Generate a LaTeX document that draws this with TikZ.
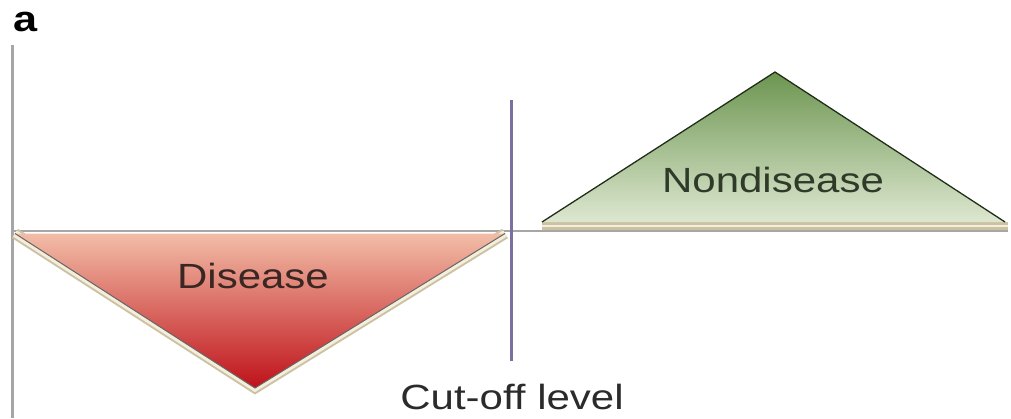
\documentclass[tikz,border=0pt]{standalone}
\usepackage{fontspec}
\setmainfont{Liberation Sans}
\newfontfamily\widesans[FakeStretch=1.2]{Liberation Sans}
\definecolor{axisgray}{HTML}{A6A6A6}
\definecolor{cutviolet}{HTML}{7A6FA0}
\definecolor{frametan}{HTML}{CDC1A3}
\definecolor{framecream}{HTML}{F4EFDD}
\definecolor{dzlight}{HTML}{F2BDA7}
\definecolor{dzmid}{HTML}{E8755A}
\definecolor{dzdark}{HTML}{BF121A}
\definecolor{ndtop}{HTML}{6C9550}
\definecolor{ndbottom}{HTML}{DDE7D0}
\definecolor{dztext}{HTML}{3A2622}
\definecolor{ndtext}{HTML}{2F3A29}
\definecolor{cuttext}{HTML}{2B2B2B}
\tikzset{label/.style={anchor=center,inner sep=0pt,font=\widesans\fontsize{35}{40}\selectfont},axis/.style={axisgray,line width=2.6pt}}

\begin{document}
\begin{tikzpicture}[x=1pt,y=-1pt]
\path[use as bounding box] (0,0) rectangle (1011,418);
\node[anchor=center,inner sep=0pt,font=\widesans\bfseries\fontsize{36}{40}\selectfont] (panel) at (26.00000,21.50000) {a};
% axes
\draw[axis] (12.50000,45.00000) -- (12.50000,418.00000);
\draw[axisgray,line width=2pt] (12.00000,230.50000) -- (1008.00000,230.50000);
% disease triangle with its frame
\coordinate (dl) at (15.00000,233.50000);
\coordinate (dr) at (505.00000,233.50000);
\coordinate (dapex) at (255.00000,388.00000);
\draw[frametan,line width=11pt,line join=miter] (dl) -- (dapex) -- (dr);
\draw[framecream,line width=7pt,line join=miter] (dl) -- (dapex) -- (dr);
\shade[top color=dzlight,middle color=dzmid,bottom color=dzdark] (dl) -- (dr) -- (dapex) -- cycle;
\draw[black!60,line width=1pt] (dl) -- (dapex) -- (dr);
% nondisease triangle
\coordinate (nl) at (542.00000,222.00000);
\coordinate (nr) at (1005.00000,222.00000);
\coordinate (napex) at (775.00000,72.00000);
\fill[frametan] (542.00000,222.00000) rectangle (1008.00000,229.50000);
\fill[framecream] (542.00000,224.50000) rectangle (1008.00000,227.00000);
\shade[top color=ndtop,bottom color=ndbottom] (nl) -- (nr) -- (napex) -- cycle;
\draw[black!70!ndtop,line width=1.3pt,line join=round] (nl) -- (napex) -- (nr);
% cut-off
\coordinate (ctop) at (511.00000,100.00000);
\coordinate (cbot) at (511.00000,361.00000);
\draw[cutviolet,line width=3pt] (ctop) -- (cbot);
\node[label,text=dztext] (disease) at (253.00000,276.00000) {Disease};
\node[label,text=ndtext] (nondisease) at (773.00000,179.50000) {Nondisease};
\node[label,text=cuttext] (cutoff) at (512.00000,397.00000) {Cut-off level};
\end{tikzpicture}
\end{document}
